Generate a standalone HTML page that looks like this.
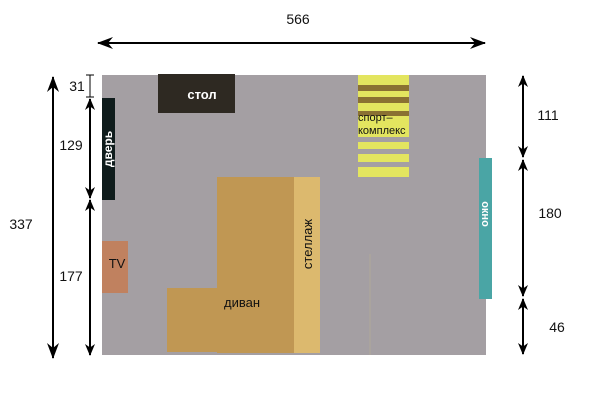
<!DOCTYPE html>
<html><head><meta charset="utf-8"><style>
html,body{margin:0;padding:0;background:#fff;}
svg{display:block;font-family:"Liberation Sans","DejaVu Sans",sans-serif;}
</style></head><body>
<svg width="600" height="400" viewBox="0 0 600 400" xmlns="http://www.w3.org/2000/svg">
<rect x="0" y="0" width="600" height="400" fill="#fff"/>
<rect x="102" y="75" width="384" height="280" fill="#a49fa3"/>
<line x1="370" y1="254" x2="370" y2="355" stroke="#b0aa98" stroke-width="1"/>
<rect x="158" y="74" width="77" height="39" fill="#2e2922"/>
<text x="202" y="99" fill="#fff" font-size="13" font-weight="bold" text-anchor="middle">стол</text>
<rect x="102" y="98" width="13" height="102" fill="#0f1c1c"/>
<text transform="translate(112,149) rotate(-90)" fill="#fff" font-size="12" font-weight="bold" text-anchor="middle">дверь</text>
<rect x="358" y="75" width="51" height="10" fill="#e3e55f"/>
<rect x="358" y="85" width="51" height="6" fill="#8a7132"/>
<rect x="358" y="91" width="51" height="6" fill="#e3e55f"/>
<rect x="358" y="97" width="51" height="6" fill="#8a7132"/>
<rect x="358" y="103" width="51" height="8" fill="#e3e55f"/>
<rect x="358" y="111" width="51" height="5" fill="#8a7132"/>
<rect x="358" y="116" width="51" height="21" fill="#e3e55f"/>
<rect x="358" y="142" width="51" height="7" fill="#e3e55f"/>
<rect x="358" y="154" width="51" height="8" fill="#e3e55f"/>
<rect x="358" y="167" width="51" height="10" fill="#e3e55f"/>
<text x="358" y="121" fill="#111" font-size="11">спорт–</text>
<text x="358" y="134" fill="#111" font-size="11">комплекс</text>
<rect x="217" y="177" width="77" height="176" fill="#c09753"/>
<rect x="167" y="288" width="127" height="64" fill="#c09753"/>
<text x="242" y="307" fill="#111" font-size="13" text-anchor="middle">диван</text>
<rect x="294" y="177" width="26" height="176" fill="#dcb96e"/>
<text transform="translate(312,244) rotate(-90)" fill="#111" font-size="13" text-anchor="middle">стеллаж</text>
<rect x="102" y="241" width="26" height="52" fill="#c0815f"/>
<text x="117" y="268" fill="#111" font-size="13" text-anchor="middle">TV</text>
<rect x="479" y="158" width="13" height="141" fill="#4aa5a5"/>
<text transform="translate(482,214) rotate(90)" fill="#fff" font-size="11" font-weight="bold" text-anchor="middle">окно</text>

<defs>
<marker id="ah" viewBox="0 0 16 12" refX="15" refY="6" markerWidth="16" markerHeight="12" markerUnits="userSpaceOnUse" orient="auto-start-reverse">
<path d="M0,0 L16,6 L0,12 L5,6 Z" fill="#000"/>
</marker>
<marker id="ahs" viewBox="0 0 12 10" refX="11" refY="5" markerWidth="12" markerHeight="10" markerUnits="userSpaceOnUse" orient="auto-start-reverse">
<path d="M0,0 L12,5 L0,10 L3.5,5 Z" fill="#000"/>
</marker>
</defs>
<g stroke="#000" stroke-width="2" fill="none">
<line x1="98" y1="43" x2="485" y2="43" marker-start="url(#ah)" marker-end="url(#ah)"/>
<line x1="53" y1="77" x2="53" y2="358" marker-start="url(#ah)" marker-end="url(#ah)"/>
<line x1="90" y1="99" x2="90" y2="198" marker-start="url(#ahs)" marker-end="url(#ahs)"/>
<line x1="90" y1="200" x2="90" y2="355" marker-start="url(#ahs)" marker-end="url(#ahs)"/>
<line x1="523" y1="76" x2="523" y2="157" marker-start="url(#ahs)" marker-end="url(#ahs)"/>
<line x1="523" y1="160" x2="523" y2="296" marker-start="url(#ahs)" marker-end="url(#ahs)"/>
<line x1="523" y1="299" x2="523" y2="354" marker-start="url(#ahs)" marker-end="url(#ahs)"/>
</g>
<g stroke="#000" stroke-width="1">
<line x1="90" y1="75" x2="90" y2="97"/>
<line x1="86" y1="75" x2="94" y2="75"/>
<line x1="86" y1="97" x2="94" y2="97"/>
</g>
<g fill="#111" font-size="14">
<text x="298" y="24" text-anchor="middle">566</text>
<text x="21" y="229" text-anchor="middle">337</text>
<text x="77" y="91" text-anchor="middle">31</text>
<text x="71" y="150" text-anchor="middle">129</text>
<text x="71" y="281" text-anchor="middle">177</text>
<text x="548" y="120" text-anchor="middle">111</text>
<text x="550" y="218" text-anchor="middle">180</text>
<text x="557" y="332" text-anchor="middle">46</text>
</g>
</svg>
</body></html>
